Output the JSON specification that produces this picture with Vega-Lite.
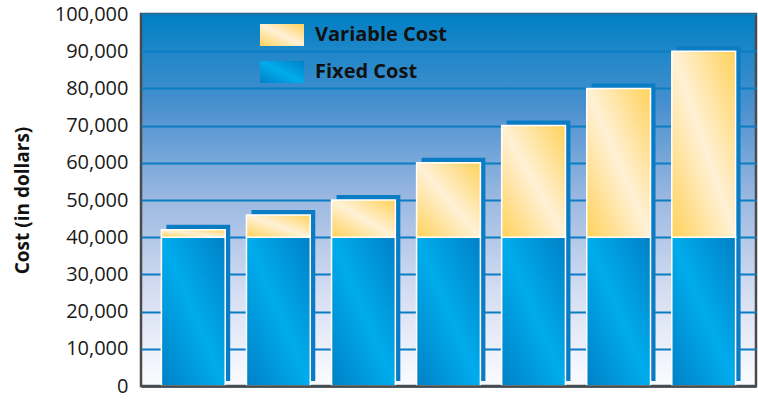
{
  "$schema": "https://vega.github.io/schema/vega-lite/v6.json",
  "width": 615,
  "height": 372,
  "autosize": {"type": "none"},
  "padding": {"left": 141, "top": 14, "right": 2, "bottom": 14},
  "background": "white",
  "view": {
    "stroke": "#4a4a4a",
    "strokeWidth": 2.5,
    "fill": {
      "gradient": "linear",
      "x1": 0, "y1": 0, "x2": 0, "y2": 1,
      "stops": [
        {"offset": 0, "color": "#0080c4"},
        {"offset": 0.25, "color": "#4a90cf"},
        {"offset": 0.5, "color": "#9cb9e1"},
        {"offset": 0.75, "color": "#d5def2"},
        {"offset": 1, "color": "#fbfcff"}
      ]
    }
  },
  "datasets": {
    "costs": [
      {"unit": "1", "fixed": 40000, "total": 42000},
      {"unit": "2", "fixed": 40000, "total": 46000},
      {"unit": "3", "fixed": 40000, "total": 50000},
      {"unit": "4", "fixed": 40000, "total": 60000},
      {"unit": "5", "fixed": 40000, "total": 70000},
      {"unit": "6", "fixed": 40000, "total": 80000},
      {"unit": "7", "fixed": 40000, "total": 90000}
    ],
    "legendV": [{"type": "Variable Cost"}],
    "legendF": [{"type": "Fixed Cost"}]
  },
  "resolve": {"scale": {"shape": "independent"}, "legend": {"shape": "independent"}},
  "layer": [
    {
      "data": {"name": "costs"},
      "mark": {"type": "bar", "color": "#0a7cc4", "xOffset": 5, "yOffset": -5},
      "encoding": {
        "x": {
          "field": "unit", "type": "nominal",
          "scale": {"paddingInner": 0.25, "paddingOuter": 0.24},
          "axis": {"labels": false, "ticks": false, "title": null, "domain": true, "domainColor": "#4a4a4a", "domainWidth": 2.5, "zindex": 1, "grid": false}
        },
        "y": {
          "field": "total", "type": "quantitative",
          "scale": {"domain": [0, 100000], "nice": false},
          "axis": {
            "title": "Cost (in dollars)",
            "titleFont": "Open Sans",
            "titleFontWeight": "bold",
            "titleFontSize": 19,
            "titleColor": "#111",
            "titleAngle": -90,
            "titleAlign": "center",
            "titleBaseline": "middle",
            "titleX": -119,
            "titleY": 186,
            "values": [0, 10000, 20000, 30000, 40000, 50000, 60000, 70000, 80000, 90000, 100000],
            "tickCount": 12,
            "format": ",d",
            "labelFont": "Open Sans",
            "labelFontSize": 20,
            "labelColor": "#1a1a1a",
            "labelPadding": 13,
            "labelOverlap": false,
            "labelBound": false,
            "ticks": false,
            "tickSize": 0,
            "domain": false,
            "grid": true,
            "gridColor": "#0b7dc3",
            "gridWidth": 2,
            "gridOpacity": 1,
            "zindex": 0
          }
        }
      }
    },
    {
      "data": {"name": "costs"},
      "mark": {
        "type": "bar",
        "stroke": "white",
        "strokeWidth": 1.5,
        "fill": {
          "gradient": "linear",
          "x1": 0, "y1": 1, "x2": 1, "y2": 0,
          "stops": [
            {"offset": 0, "color": "#0080c6"},
            {"offset": 0.5, "color": "#00acec"},
            {"offset": 1, "color": "#0080c6"}
          ]
        }
      },
      "encoding": {
        "x": {"field": "unit", "type": "nominal"},
        "y": {"field": "fixed", "type": "quantitative"}
      }
    },
    {
      "data": {"name": "costs"},
      "mark": {
        "type": "bar",
        "stroke": "white",
        "strokeWidth": 1.5,
        "fill": {
          "gradient": "linear",
          "x1": 0, "y1": 1, "x2": 1, "y2": 0,
          "stops": [
            {"offset": 0, "color": "#ffd25a"},
            {"offset": 0.5, "color": "#fff1d6"},
            {"offset": 1, "color": "#ffd25a"}
          ]
        }
      },
      "encoding": {
        "x": {"field": "unit", "type": "nominal"},
        "y": {"field": "total", "type": "quantitative"},
        "y2": {"field": "fixed"}
      }
    },
    {
      "data": {"name": "legendV"},
      "mark": {
        "type": "point",
        "filled": true,
        "opacity": 0,
        "stroke": "white",
        "strokeWidth": 1.5,
        "fill": {
          "gradient": "linear",
          "x1": 0, "y1": 1, "x2": 1, "y2": 0,
          "stops": [
            {"offset": 0, "color": "#ffd25a"},
            {"offset": 0.5, "color": "#fff1d6"},
            {"offset": 1, "color": "#ffd25a"}
          ]
        }
      },
      "encoding": {
        "shape": {
          "field": "type", "type": "nominal",
          "scale": {"range": ["M-1,-0.5L1,-0.5L1,0.5L-1,0.5Z"]},
          "legend": {
            "orient": "none",
            "legendX": 118,
            "legendY": -2,
            "title": null,
            "padding": 0,
            "symbolSize": 1936,
            "symbolOpacity": 1,
            "symbolStrokeColor": "white",
            "symbolStrokeWidth": 1.5,
            "labelFont": "Open Sans",
            "labelFontWeight": "bold",
            "labelFontSize": 20,
            "labelColor": "#111",
            "labelOffset": 10
          }
        }
      }
    },
    {
      "data": {"name": "legendF"},
      "mark": {
        "type": "point",
        "filled": true,
        "opacity": 0,
        "stroke": "white",
        "strokeWidth": 1.5,
        "fill": {
          "gradient": "linear",
          "x1": 0, "y1": 1, "x2": 1, "y2": 0,
          "stops": [
            {"offset": 0, "color": "#0080c6"},
            {"offset": 0.5, "color": "#00acec"},
            {"offset": 1, "color": "#0080c6"}
          ]
        }
      },
      "encoding": {
        "shape": {
          "field": "type", "type": "nominal",
          "scale": {"range": ["M-1,-0.5L1,-0.5L1,0.5L-1,0.5Z"]},
          "legend": {
            "orient": "none",
            "legendX": 118,
            "legendY": 35,
            "title": null,
            "padding": 0,
            "symbolSize": 1936,
            "symbolOpacity": 1,
            "symbolStrokeColor": "white",
            "symbolStrokeWidth": 1.5,
            "labelFont": "Open Sans",
            "labelFontWeight": "bold",
            "labelFontSize": 20,
            "labelColor": "#111",
            "labelOffset": 10
          }
        }
      }
    }
  ]
}
